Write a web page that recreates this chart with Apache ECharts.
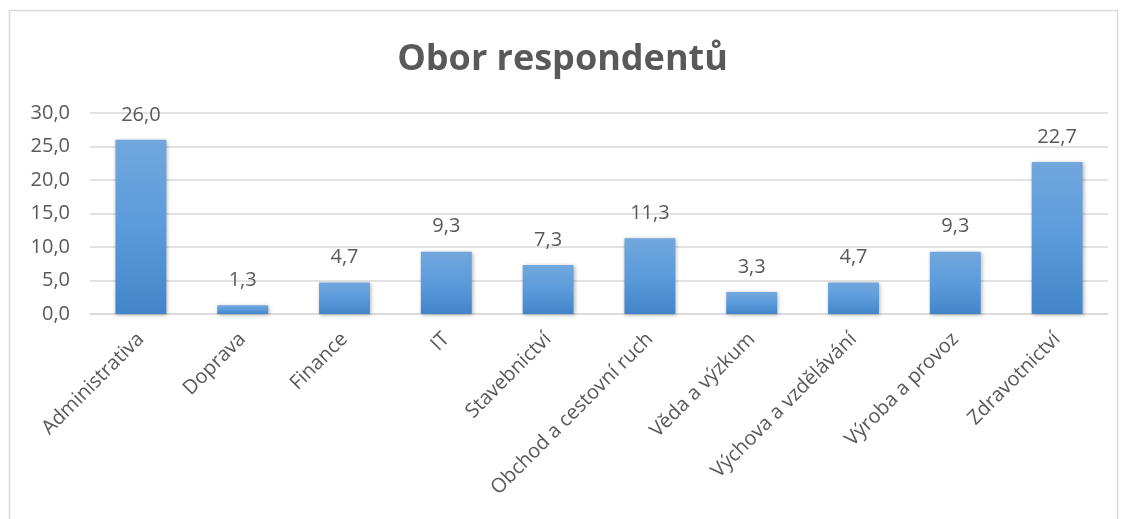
<!DOCTYPE html>
<html>
<head>
<meta charset="utf-8">
<script src="https://cdn.jsdelivr.net/npm/echarts@6/dist/echarts.min.js"></script>
<style>
  html, body { margin: 0; padding: 0; background: #fff; }
  #chart { width: 1125px; height: 519px; }
</style>
</head>
<body>
<div id="chart"></div>
<script>
// data
const categories = [
  'Administrativa', 'Doprava', 'Finance', 'IT', 'Stavebnictví',
  'Obchod a cestovní ruch', 'Věda a výzkum', 'Výchova a vzdělávání',
  'Výroba a provoz', 'Zdravotnictví'
];
const values = [26.0, 1.3, 4.7, 9.3, 7.3, 11.3, 3.3, 4.7, 9.3, 22.7];

const fmt = v => Number(v).toFixed(1).replace('.', ',');
const textColor = '#595959';
const font = '"Open Sans", "Noto Sans", sans-serif';

const chart = echarts.init(document.getElementById('chart'));

const option = {
  animation: false,
  title: {
    text: 'Obor respondentů',
    left: 'center',
    top: 37,
    textStyle: { color: textColor, fontSize: 36, fontWeight: 'bold', fontFamily: font }
  },
  graphic: [{
    type: 'rect',
    shape: { x: 9.5, y: 10.5, width: 1108, height: 530 },
    style: { fill: 'none', stroke: '#d9d9d9', lineWidth: 1.5 },
    silent: true
  }],
  grid: { left: 90, right: 17, top: 113, bottom: 205 },
  xAxis: {
    type: 'category',
    data: categories,
    axisLine: { lineStyle: { color: '#d9d9d9', width: 1.5 } },
    axisTick: { show: false },
    axisLabel: {
      rotate: 45,
      interval: 0,
      margin: 22,
      color: textColor,
      fontSize: 20,
      fontFamily: font
    }
  },
  yAxis: {
    type: 'value',
    min: 0,
    max: 30,
    interval: 5,
    axisLine: { show: false },
    axisTick: { show: false },
    splitLine: { lineStyle: { color: '#d9d9d9', width: 1.5 } },
    axisLabel: {
      margin: 20,
      color: textColor,
      fontSize: 20,
      fontFamily: font,
      formatter: fmt
    }
  },
  series: [{
    type: 'bar',
    data: values,
    barWidth: '50%',
    itemStyle: {
      color: new echarts.graphic.LinearGradient(0, 0, 0, 1, [
        { offset: 0, color: '#72a7dd' },
        { offset: 0.5, color: '#5b9bdc' },
        { offset: 1, color: '#4285c8' }
      ]),
      shadowColor: 'rgba(0,0,0,0.3)',
      shadowBlur: 4,
      shadowOffsetX: 1,
      shadowOffsetY: 1
    },
    label: {
      show: true,
      position: 'top',
      distance: 15,
      color: textColor,
      fontSize: 20,
      fontFamily: font,
      formatter: p => fmt(p.value)
    }
  }]
};

chart.setOption(option);
window.addEventListener('resize', () => chart.resize());
</script>
</body>
</html>
